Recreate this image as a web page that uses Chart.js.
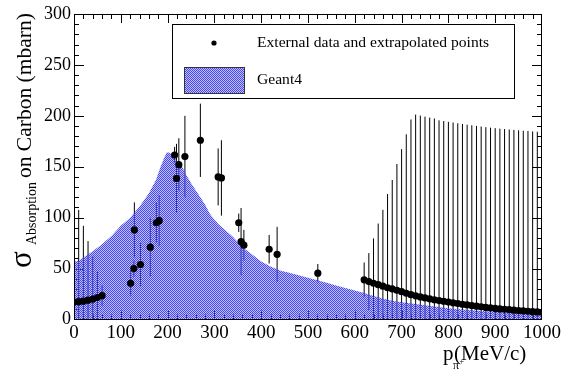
<!DOCTYPE html>
<html>
<head>
<meta charset="utf-8">
<script src="https://cdn.jsdelivr.net/npm/chart.js@4.4.0/dist/chart.umd.min.js"></script>
<style>
  html, body { margin: 0; padding: 0; background: #fff; }
</style>
</head>
<body>
<canvas id="xsec" width="563" height="370"></canvas>
<script>
// Geant4 prediction (filled area)
const g4Mom = [0, 10, 20, 40, 60, 80, 100, 120, 140, 160, 175, 185, 192, 198, 204, 210, 220, 230, 240, 250,
  260, 270, 280, 290, 300, 310, 320, 340, 360, 380, 400, 420, 440, 460, 480, 500, 520, 540, 560, 580,
  600, 620, 640, 660, 680, 700, 750, 800, 850, 900, 950, 1000];
const g4Sigma = [57, 57.5, 61, 67, 74, 82, 92, 100, 111, 124, 137, 150, 158, 164, 164, 161, 155.5, 151, 142, 134,
  127, 120, 113, 104, 98, 93, 89, 81, 71, 64, 57, 52, 48, 46, 43.5, 41, 38.5, 36, 33.5, 31,
  28.5, 26, 23, 20.5, 18.5, 17, 14, 11, 9, 7.5, 6, 4.5];

// external data and extrapolated points
const dataMom = [0, 10, 20, 30, 40, 50, 60,
  121, 128, 129, 142, 163, 176, 182, 215, 219, 224, 237, 270, 308, 315, 352, 357, 363, 417, 434, 521,
  620, 630, 640, 650, 660, 670, 680, 690, 700, 710, 720, 730, 740, 750, 760, 770, 780, 790, 800,
  810, 820, 830, 840, 850, 860, 870, 880, 890, 900, 910, 920, 930, 940, 950, 960, 970, 980, 990, 1000];
const dataSigma = [17, 17.5, 18, 19, 20, 21.5, 23.5,
  35.5, 50, 88, 54, 71, 95, 97, 161.5, 138.5, 152, 160, 176, 140, 139, 95, 76.5, 73, 69, 64, 45.5,
  39, 37.2, 35.6, 34.2, 32.7, 31.2, 30, 28.7, 27.3, 25.8, 24.4, 23.2, 22.2, 21.2, 20.3, 19.4, 18.6, 17.9, 17.1,
  16.4, 15.7, 15, 14.3, 13.7, 13.1, 12.5, 11.9, 11.4, 10.9, 10.4, 10, 9.6, 9.2, 8.8, 8.4, 8.1, 7.7, 7.4, 7.1];
const dataErr = [105, 90, 74, 58, 42, 26, 10,
  12, 8, 27, 21, 29, 20, 25, 8, 34, 26, 40, 36, 28, 37, 9, 33, 15, 14, 27, 9,
  17, 28, 44, 60, 75, 92, 107, 124, 140, 156, 172, 178, 178, 178, 178, 178, 177, 177, 177,
  177, 177, 177, 177, 177, 177, 177, 177, 177, 177, 177, 177, 177, 177, 177, 177, 177, 177, 177, 177];

const xTicks = [0, 100, 200, 300, 400, 500, 600, 700, 800, 900, 1000];
const yTicks = [0, 50, 100, 150, 200, 250, 300];

const serif = "'Liberation Serif', 'Times New Roman', serif";

var canvas = document.getElementById("xsec");
var ctx0 = canvas.getContext('2d');

// checkerboard fill like ROOT's hatch style
function makeHatch() {
  var c = document.createElement('canvas');
  c.width = 2; c.height = 2;
  var p = c.getContext('2d');
  p.fillStyle = 'rgb(72,72,240)';
  p.fillRect(0, 0, 1, 1);
  p.fillRect(1, 1, 1, 1);
  p.fillStyle = 'rgba(90,90,255,0.38)';
  p.fillRect(1, 0, 1, 1);
  p.fillRect(0, 1, 1, 1);
  return ctx0.createPattern(c, 'repeat');
}
var hatch = makeHatch();

function vtext(ctx, txt, x, y, font) {
  ctx.save();
  ctx.translate(x, y);
  ctx.rotate(-Math.PI / 2);
  ctx.font = font;
  ctx.textAlign = 'left';
  ctx.textBaseline = 'alphabetic';
  ctx.fillText(txt, 0, 0);
  ctx.restore();
}

const rootStyle = {
  id: 'rootStyle',
  beforeDatasetsDraw(chart) {
    const ctx = chart.ctx, a = chart.chartArea;
    const xs = chart.scales.x, ys = chart.scales.y;
    ctx.save();
    ctx.beginPath();
    ctx.rect(a.left, a.top, a.right - a.left, a.bottom - a.top);
    ctx.clip();
    // error bars
    ctx.strokeStyle = '#000';
    ctx.lineWidth = 1;
    for (let i = 0; i < dataMom.length; i++) {
      const px = xs.getPixelForValue(dataMom[i]);
      const lo = ys.getPixelForValue(Math.max(0, dataSigma[i] - dataErr[i]));
      const hi = ys.getPixelForValue(dataSigma[i] + dataErr[i]);
      ctx.beginPath();
      ctx.moveTo(px, lo);
      ctx.lineTo(px, hi);
      ctx.stroke();
    }
    // inside ticks on all four sides
    for (let v = 0; v <= 1000; v += 20) {
      const px = Math.round(xs.getPixelForValue(v)) + 0.5;
      const len = v % 100 === 0 ? 9 : 5;
      ctx.beginPath();
      ctx.moveTo(px, a.bottom); ctx.lineTo(px, a.bottom - len);
      ctx.moveTo(px, a.top); ctx.lineTo(px, a.top + len);
      ctx.stroke();
    }
    for (let v = 0; v <= 300; v += 10) {
      const py = Math.round(ys.getPixelForValue(v)) + 0.5;
      const len = v % 50 === 0 ? 10 : 5;
      ctx.beginPath();
      ctx.moveTo(a.left, py); ctx.lineTo(a.left + len, py);
      ctx.moveTo(a.right, py); ctx.lineTo(a.right - len, py);
      ctx.stroke();
    }
    ctx.restore();
  },
  afterDatasetsDraw(chart) {
    const ctx = chart.ctx, a = chart.chartArea;
    ctx.save();
    // frame
    ctx.strokeStyle = '#000';
    ctx.lineWidth = 1;
    const L = Math.round(a.left) + 0.5, R = Math.round(a.right) - 0.5;
    const T = Math.round(a.top) + 0.5, B = Math.round(a.bottom) - 0.5;
    ctx.strokeRect(L, T, R - L, B - T);

    // legend
    ctx.fillStyle = '#fff';
    ctx.fillRect(172, 24, 342, 74);
    ctx.strokeRect(172.5, 24.5, 342, 74);
    ctx.fillStyle = '#000';
    ctx.beginPath();
    ctx.arc(214, 43, 2.6, 0, Math.PI * 2);
    ctx.fill();
    ctx.fillStyle = hatch;
    ctx.fillRect(184, 67, 60, 26);
    ctx.strokeStyle = '#333';
    ctx.strokeRect(184.5, 67.5, 60, 26);
    ctx.fillStyle = '#000';
    ctx.font = '15.6px ' + serif;
    ctx.textBaseline = 'middle';
    ctx.textAlign = 'left';
    ctx.fillText(chart.data.datasets[0].label, 257, 43);
    ctx.fillText(chart.data.datasets[1].label, 257, 80);

    // y title
    vtext(ctx, 'σ', 31, 268, '31px ' + serif);
    vtext(ctx, 'Absorption', 36, 245, '14px ' + serif);
    vtext(ctx, 'on Carbon (mbarn)', 31, 178, '21.5px ' + serif);

    // x title
    ctx.textBaseline = 'alphabetic';
    ctx.font = '21px ' + serif;
    ctx.fillText('p', 443, 360);
    ctx.fillText('(MeV/c)', 454, 360);
    ctx.font = '12px ' + serif;
    ctx.fillText('π', 453, 369);
    ctx.font = '8px ' + serif;
    ctx.fillText('+', 459.5, 364);
    ctx.restore();
  }
};

var g4Points = g4Mom.map((m, i) => ({ x: m, y: g4Sigma[i] }));
var dataPoints = dataMom.map((m, i) => ({ x: m, y: dataSigma[i] }));

var chart = new Chart(ctx0, {
  type: 'scatter',
  data: {
    datasets: [{
      label: 'External data and extrapolated points',
      data: dataPoints,
      backgroundColor: '#000',
      borderColor: '#000',
      pointRadius: 3.6,
      pointBorderWidth: 0,
      showLine: false
    }, {
      type: 'line',
      label: 'Geant4',
      data: g4Points,
      fill: 'origin',
      backgroundColor: hatch,
      borderColor: 'rgba(0,0,0,0)',
      borderWidth: 0,
      pointRadius: 0,
      tension: 0
    }]
  },
  options: {
    responsive: false,
    animation: false,
    layout: { padding: { left: 41, right: 20, top: 14, bottom: 22.5 } },
    plugins: { legend: { display: false }, tooltip: { enabled: false } },
    scales: {
      x: {
        type: 'linear', min: 0, max: 1000,
        grid: { display: false, drawTicks: false },
        border: { display: false },
        ticks: { font: { family: serif, size: 19 }, color: '#000', padding: 2, maxRotation: 0, autoSkip: false,
          callback: v => String(v) },
        afterBuildTicks: s => { s.ticks = xTicks.map(v => ({ value: v })); },
        afterFit: s => { s.height = 28; }
      },
      y: {
        type: 'linear', min: 0, max: 300,
        grid: { display: false, drawTicks: false },
        border: { display: false },
        ticks: { font: { family: serif, size: 18 }, color: '#000', padding: 3, autoSkip: false,
          callback: v => String(v) },
        afterBuildTicks: s => { s.ticks = yTicks.map(v => ({ value: v })); },
        afterFit: s => { s.width = 33; }
      }
    }
  },
  plugins: [rootStyle]
});
</script>
</body>
</html>
